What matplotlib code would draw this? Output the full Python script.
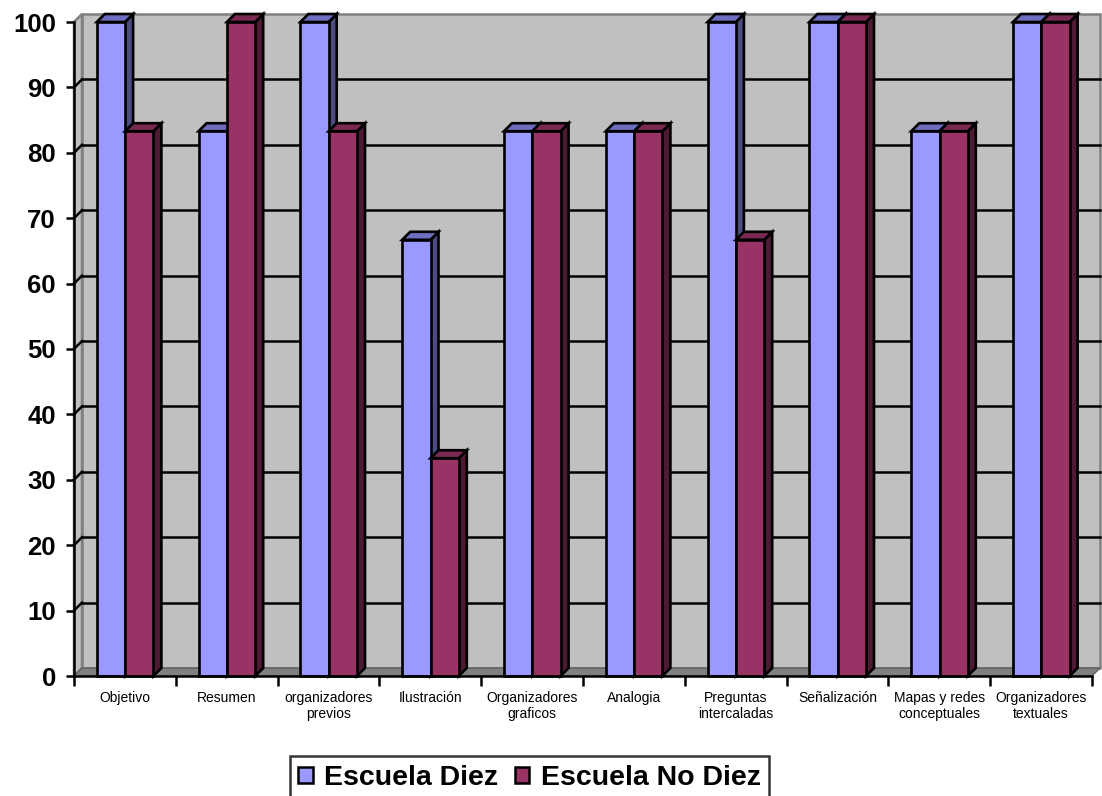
import matplotlib.pyplot as plt
from matplotlib.patches import Polygon, Rectangle, Patch

plt.rcParams['font.family'] = ['Liberation Sans', 'DejaVu Sans']

# datos
categories = ['Objetivo', 'Resumen', 'organizadores\nprevios', 'Ilustración',
              'Organizadores\ngraficos', 'Analogia', 'Preguntas\nintercaladas',
              'Señalización', 'Mapas y redes\nconceptuales', 'Organizadores\ntextuales']
escuela_diez = [100, 83.3, 100, 66.7, 83.3, 83.3, 100, 100, 83.3, 100]
escuela_no_diez = [83.3, 100, 83.3, 33.3, 83.3, 83.3, 66.7, 100, 83.3, 100]
series_names = ['Escuela Diez', 'Escuela No Diez']
yticks = list(range(0, 101, 10))

# colores (frente, arriba, lado)
blue = ('#9999FF', '#6E6EC0', '#4C4C80')
wine = ('#993366', '#7A2952', '#4D1A33')
wall = '#C0C0C0'
floor = '#808080'

W, H = 1102, 796
fig = plt.figure(figsize=(W / 100, H / 100), dpi=100)
ax_l, ax_r, ax_t, ax_b = 74, 1092, 22, 676
ax = fig.add_axes([ax_l / W, 1 - ax_b / H, (ax_r - ax_l) / W, (ax_b - ax_t) / H])
n = len(categories)
ax.set_xlim(0, n)
ax.set_ylim(0, 100)
ax.patch.set_visible(False)

# profundidad 3D en unidades de datos (8 px)
dx = 8 / ((ax_r - ax_l) / n)
dy = 8 / ((ax_b - ax_t) / 100)

# pared de fondo, pared lateral y piso
ax.add_patch(Polygon([(dx, dy), (n + dx, dy), (n + dx, 100 + dy), (dx, 100 + dy)],
                     closed=True, facecolor=wall, edgecolor='#808080', lw=1.8,
                     zorder=1, clip_on=False))
ax.add_patch(Polygon([(0, 0), (dx, dy), (dx, 100 + dy), (0, 100)], closed=True,
                     facecolor=wall, edgecolor='#808080', lw=1.8, zorder=1, clip_on=False))
ax.add_patch(Polygon([(0, 0), (n, 0), (n + dx, dy), (dx, dy)], closed=True,
                     facecolor=floor, edgecolor='#606060', lw=1, zorder=1.5, clip_on=False))

# lineas de cuadricula
for v in yticks[1:-1]:
    ax.plot([dx, n + dx], [v + dy, v + dy], color='black', lw=1.8, zorder=2, clip_on=False)
    ax.plot([0, dx], [v, v + dy], color='black', lw=1.8, zorder=2, clip_on=False)


def bar3d(x0, w, v, cols):
    kw = dict(edgecolor='black', lw=1.9, joinstyle='miter', zorder=3, clip_on=False)
    ax.add_patch(Polygon([(x0 + w, 0), (x0 + w + dx, dy), (x0 + w + dx, v + dy), (x0 + w, v)],
                         closed=True, facecolor=cols[2], **kw))
    ax.add_patch(Polygon([(x0, v), (x0 + w, v), (x0 + w + dx, v + dy), (x0 + dx, v + dy)],
                         closed=True, facecolor=cols[1], **kw))
    ax.add_patch(Rectangle((x0, 0), w, v, facecolor=cols[0], **kw))


bw = 0.278
for i in range(n):
    bar3d(i + 0.224, bw, escuela_diez[i], blue)
    bar3d(i + 0.224 + bw, bw, escuela_no_diez[i], wine)

# ejes
for s in ['top', 'right']:
    ax.spines[s].set_visible(False)
for s in ['left', 'bottom']:
    ax.spines[s].set_linewidth(1.8)
    ax.spines[s].set_zorder(4)
ax.set_yticks(yticks)
ax.set_yticklabels([str(v) for v in yticks], fontsize=18.5, fontweight='bold')
ax.tick_params(axis='y', length=6, width=1.8, pad=7)
ax.set_xticks([i + 0.5 for i in range(n)])
ax.set_xticklabels(categories, fontsize=10)
ax.set_xticks(range(n + 1), minor=True)
ax.tick_params(axis='x', which='major', length=0, pad=11)
ax.tick_params(axis='x', which='minor', length=7, width=1.8)

handles = [Patch(facecolor=blue[0], edgecolor='black', lw=1.8),
           Patch(facecolor=wine[0], edgecolor='black', lw=1.8)]
leg = fig.legend(handles, series_names, loc='lower center', bbox_to_anchor=(529.5 / W, -0.022),
                 ncol=2, prop={'size': 20.5, 'weight': 'bold'}, frameon=True, fancybox=False,
                 edgecolor='black', handlelength=0.5, handleheight=0.5, handletextpad=0.4,
                 columnspacing=0.6, borderpad=0.3)
leg.get_frame().set_linewidth(1.8)

fig.savefig('out.png', dpi=100)
